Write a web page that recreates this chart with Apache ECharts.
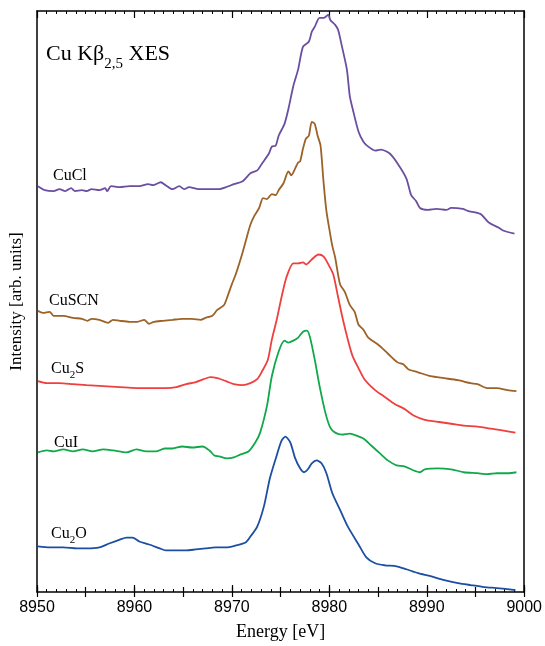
<!DOCTYPE html>
<html>
<head>
<meta charset="utf-8">
<script src="https://cdn.jsdelivr.net/npm/echarts@6/dist/echarts.min.js"></script>
<style>
  html, body { margin: 0; padding: 0; background: #fff; }
  #chart { width: 545px; height: 646px; }
</style>
</head>
<body>
<div id="chart"></div>
<script>
// Cu Kβ2,5 emission spectra, vertically offset for comparison (arb. units)
const energyTicks = [8950, 8960, 8970, 8980, 8990, 9000];

const cuclEnergy = [8950.1,8950.8,8951.7,8952.3,8952.9,8953.5,8953.9,8954.6,8955.1,8955.6,8956.4,8957.0,8957.2,8957.6,8958.5,8959.5,8960.5,8961.4,8961.9,8962.7,8963.2,8963.9,8964.6,8965.1,8965.6,8966.6,8967.7,8968.7,8969.4,8970.2,8971.1,8971.9,8972.6,8973.1,8973.8,8974.1,8974.5,8974.8,8975.4,8975.8,8976.3,8976.8,8977.3,8977.9,8978.2,8978.5,8979.0,8979.4,8979.9,8980.1,8980.6,8980.9,8981.3,8981.8,8982.1,8982.4,8983.0,8983.5,8984.0,8984.7,8985.3,8986.2,8987.0,8987.9,8988.4,8988.9,8989.3,8990.1,8991.0,8992.0,8992.5,8993.7,8994.2,8995.5,8996.4,8997.4,8997.9,8999.0];
const cuclIntensity = [410,406,405,407,405,408,405,406,405,407,406,408,405,410,409,410,410,412,411,414,411,407,410,407,409,407,407,407,409,412,415,423,426,433,443,450,451,461,473,488,511,528,551,556,566,571,580,580,583,578,573,568,551,528,501,488,465,455,450,446,447,443,433,418,401,395,388,386,387,386,388,387,385,382,373,368,365,362];

const cuscnEnergy = [8950.1,8950.6,8951.3,8951.7,8952.7,8953.7,8954.6,8955.2,8955.6,8956.4,8957.3,8957.8,8958.5,8959.5,8960.3,8961.0,8961.5,8962.0,8962.9,8963.9,8964.9,8965.9,8966.8,8967.3,8968.0,8968.5,8969.2,8969.6,8970.0,8970.4,8971.1,8971.6,8971.9,8972.3,8972.8,8973.2,8973.6,8974.1,8974.5,8974.8,8975.3,8975.8,8976.1,8976.5,8976.8,8977.0,8977.3,8977.6,8977.9,8978.2,8978.5,8978.8,8979.1,8979.4,8979.7,8980.1,8980.3,8980.6,8981.1,8981.6,8982.1,8982.6,8983.0,8983.5,8984.0,8985.0,8986.0,8987.0,8987.6,8988.1,8989.1,8990.4,8991.8,8993.2,8994.5,8995.2,8996.2,8997.2,8998.3,8999.2];
const cuscnIntensity = [284,282,283,279,279,277,276,274,276,275,272,275,274,273,273,275,271,273,274,275,276,276,275,277,279,285,290,300,311,321,343,361,371,380,388,398,397,402,401,406,413,425,421,428,434,435,448,458,461,475,473,461,451,415,385,361,350,338,311,303,290,283,270,265,257,250,241,232,230,225,222,218,216,214,211,210,206,206,204,203];

const cu2sEnergy = [8950.1,8951.0,8952.3,8953.7,8955.1,8956.8,8958.5,8960.2,8961.9,8963.2,8964.3,8965.3,8966.3,8967.1,8967.8,8968.5,8969.4,8970.2,8971.1,8971.9,8972.6,8973.1,8973.7,8974.1,8974.6,8975.1,8975.6,8976.3,8976.8,8977.3,8977.6,8978.2,8978.9,8979.4,8979.9,8980.4,8980.9,8981.4,8981.9,8982.4,8983.0,8983.6,8984.7,8985.7,8986.7,8987.7,8988.7,8989.8,8991.1,8992.5,8993.8,8995.2,8996.6,8997.9,8999.1];
const cu2sIntensity = [213,211,211,210,209,208,207,206,206,206,207,210,212,215,217,216,213,210,209,211,215,223,235,255,275,298,318,332,332,333,331,336,341,339,331,321,298,275,255,238,226,215,204,197,190,185,178,174,172,170,168,167,165,163,161];

const cuiEnergy = [8950.1,8951.0,8951.7,8952.7,8953.7,8954.7,8955.7,8956.8,8957.8,8959.2,8960.2,8961.2,8962.2,8963.1,8963.9,8964.9,8965.9,8967.0,8967.7,8968.2,8968.7,8969.5,8970.2,8970.9,8971.7,8972.4,8972.9,8973.6,8974.1,8974.8,8975.4,8975.8,8976.3,8976.8,8977.3,8977.7,8978.0,8978.5,8979.0,8979.6,8980.1,8980.6,8981.3,8982.1,8982.8,8983.5,8984.3,8985.2,8986.0,8986.9,8987.7,8988.6,8989.3,8989.8,8991.1,8992.5,8993.8,8995.2,8996.2,8997.2,8998.3,8999.2];
const cuiIntensity = [141,143,142,144,142,144,142,144,143,141,144,142,142,145,145,147,146,147,143,138,137,135,136,139,142,151,161,188,218,243,254,252,254,257,263,264,258,235,208,181,166,161,159,160,158,155,148,140,133,128,127,123,121,124,125,124,121,120,119,120,120,121];

const cu2oEnergy = [8950.1,8951.3,8952.7,8954.1,8955.1,8956.4,8957.4,8958.5,8959.2,8959.8,8960.5,8961.5,8962.6,8963.2,8964.3,8965.3,8966.3,8967.3,8968.3,8969.4,8970.4,8971.4,8971.9,8972.6,8973.3,8973.9,8974.6,8975.1,8975.5,8976.0,8976.5,8977.0,8977.4,8977.8,8978.2,8978.7,8979.2,8979.7,8980.3,8981.1,8981.9,8983.0,8983.8,8984.7,8985.7,8986.9,8987.9,8989.1,8990.4,8991.8,8993.2,8994.5,8995.9,8997.2,8999.1];
const cu2oIntensity = [46,45,45,44,44,45,49,53,55,55,51,48,44,42,42,42,43,44,45,45,47,50,56,66,87,115,138,153,157,151,135,125,121,124,130,133,130,120,100,83,66,48,35,29,27,26,23,19,16,12,9,7,5,4,2];

const sampleNames = ['CuCl', 'CuSCN', 'Cu2S', 'CuI', 'Cu2O'];
const sampleColors = ['#6a4ea0', '#9c6228', '#ef3f3f', '#10a84a', '#1c4fa2'];

const SERIF = '"Liberation Serif", "Times New Roman", serif';
const SANS = '"Liberation Sans", Arial, sans-serif';

function pairs(xs, ys) { return xs.map((x, i) => [x, ys[i]]); }

const spectra = [
  pairs(cuclEnergy, cuclIntensity),
  pairs(cuscnEnergy, cuscnIntensity),
  pairs(cu2sEnergy, cu2sIntensity),
  pairs(cuiEnergy, cuiIntensity),
  pairs(cu2oEnergy, cu2oIntensity)
];

const chart = echarts.init(document.getElementById('chart'), null, { renderer: 'canvas' });

const axisLine = { show: true, onZero: false, lineStyle: { color: '#000', width: 1.5 } };

function energyAxis(position, withLabels, interval, tickLen, minor) {
  return {
    type: 'value',
    position: position,
    min: energyTicks[0],
    max: energyTicks[energyTicks.length - 1],
    interval: interval,
    axisLine: withLabels || minor ? axisLine : { show: false },
    axisTick: { show: true, inside: true, length: tickLen, lineStyle: { color: '#000', width: 1.2 } },
    minorTick: { show: minor, splitNumber: 10, length: 3, lineStyle: { color: '#000', width: 1 } },
    splitLine: { show: false },
    minorSplitLine: { show: false },
    axisLabel: {
      show: withLabels, margin: 8, color: '#000', fontFamily: SANS, fontSize: 16,
      formatter: v => String(v)
    },
    name: withLabels ? 'Energy [eV]' : '',
    nameLocation: 'middle',
    nameGap: 31,
    nameTextStyle: { fontFamily: SERIF, fontSize: 18, color: '#000' }
  };
}

// Label styling shared by the sample names; subscripts use the "s" rich style
const labelRich = {
  n: { fontFamily: SERIF, fontSize: 16, color: '#000', lineHeight: 19 },
  s: { fontFamily: SERIF, fontSize: 11, color: '#000', lineHeight: 19, verticalAlign: 'bottom', padding: [0, 0, -2, 0] }
};

function richName(name) {
  return name.replace(/(\d+)/g, '}{s|$1}{n|').replace(/^/, '{n|') + '}';
}

const labelPlacement = [
  { left: 53, top: 168 },
  { left: 49, top: 293 },
  { left: 51, top: 361 },
  { left: 54, top: 435 },
  { left: 51, top: 526 }
];

chart.setOption({
  animation: false,
  backgroundColor: '#fff',
  grid: { left: 37, right: 18, top: 11, bottom: 48, containLabel: false },
  xAxis: [
    energyAxis('bottom', true, 10, 7, true),
    energyAxis('bottom', false, 5, 5, false),
    energyAxis('top', false, 10, 7, true),
    energyAxis('top', false, 5, 5, false)
  ],
  yAxis: [
    {
      type: 'value', position: 'left', min: 0, max: 587,
      axisLine: axisLine, axisTick: { show: false }, axisLabel: { show: false },
      splitLine: { show: false },
      name: 'Intensity [arb. units]', nameLocation: 'middle', nameGap: 12,
      nameTextStyle: { fontFamily: SERIF, fontSize: 17, color: '#000' }
    },
    {
      type: 'value', position: 'right', min: 0, max: 587,
      axisLine: axisLine, axisTick: { show: false }, axisLabel: { show: false },
      splitLine: { show: false }
    }
  ],
  series: spectra.map((data, i) => ({
    name: sampleNames[i],
    type: 'line',
    xAxisIndex: 0,
    yAxisIndex: 0,
    data: data,
    showSymbol: false,
    smooth: 0.25,
    lineStyle: { color: sampleColors[i], width: 1.8 },
    itemStyle: { color: sampleColors[i] },
    z: 5 - i
  })),
  graphic: [
    {
      type: 'text', left: 46, top: 43, z: 10,
      style: {
        text: '{t|Cu Kβ}{u|2,5}{t| XES}',
        rich: {
          t: { fontFamily: SERIF, fontSize: 22, color: '#000', lineHeight: 27 },
          u: { fontFamily: SERIF, fontSize: 15, color: '#000', lineHeight: 27, verticalAlign: 'bottom', padding: [0, 0, -4, 0] }
        }
      }
    }
  ].concat(sampleNames.map((name, i) => ({
    type: 'text', left: labelPlacement[i].left, top: labelPlacement[i].top, z: 10,
    style: { text: richName(name), rich: labelRich }
  })))
});
</script>
</body>
</html>
